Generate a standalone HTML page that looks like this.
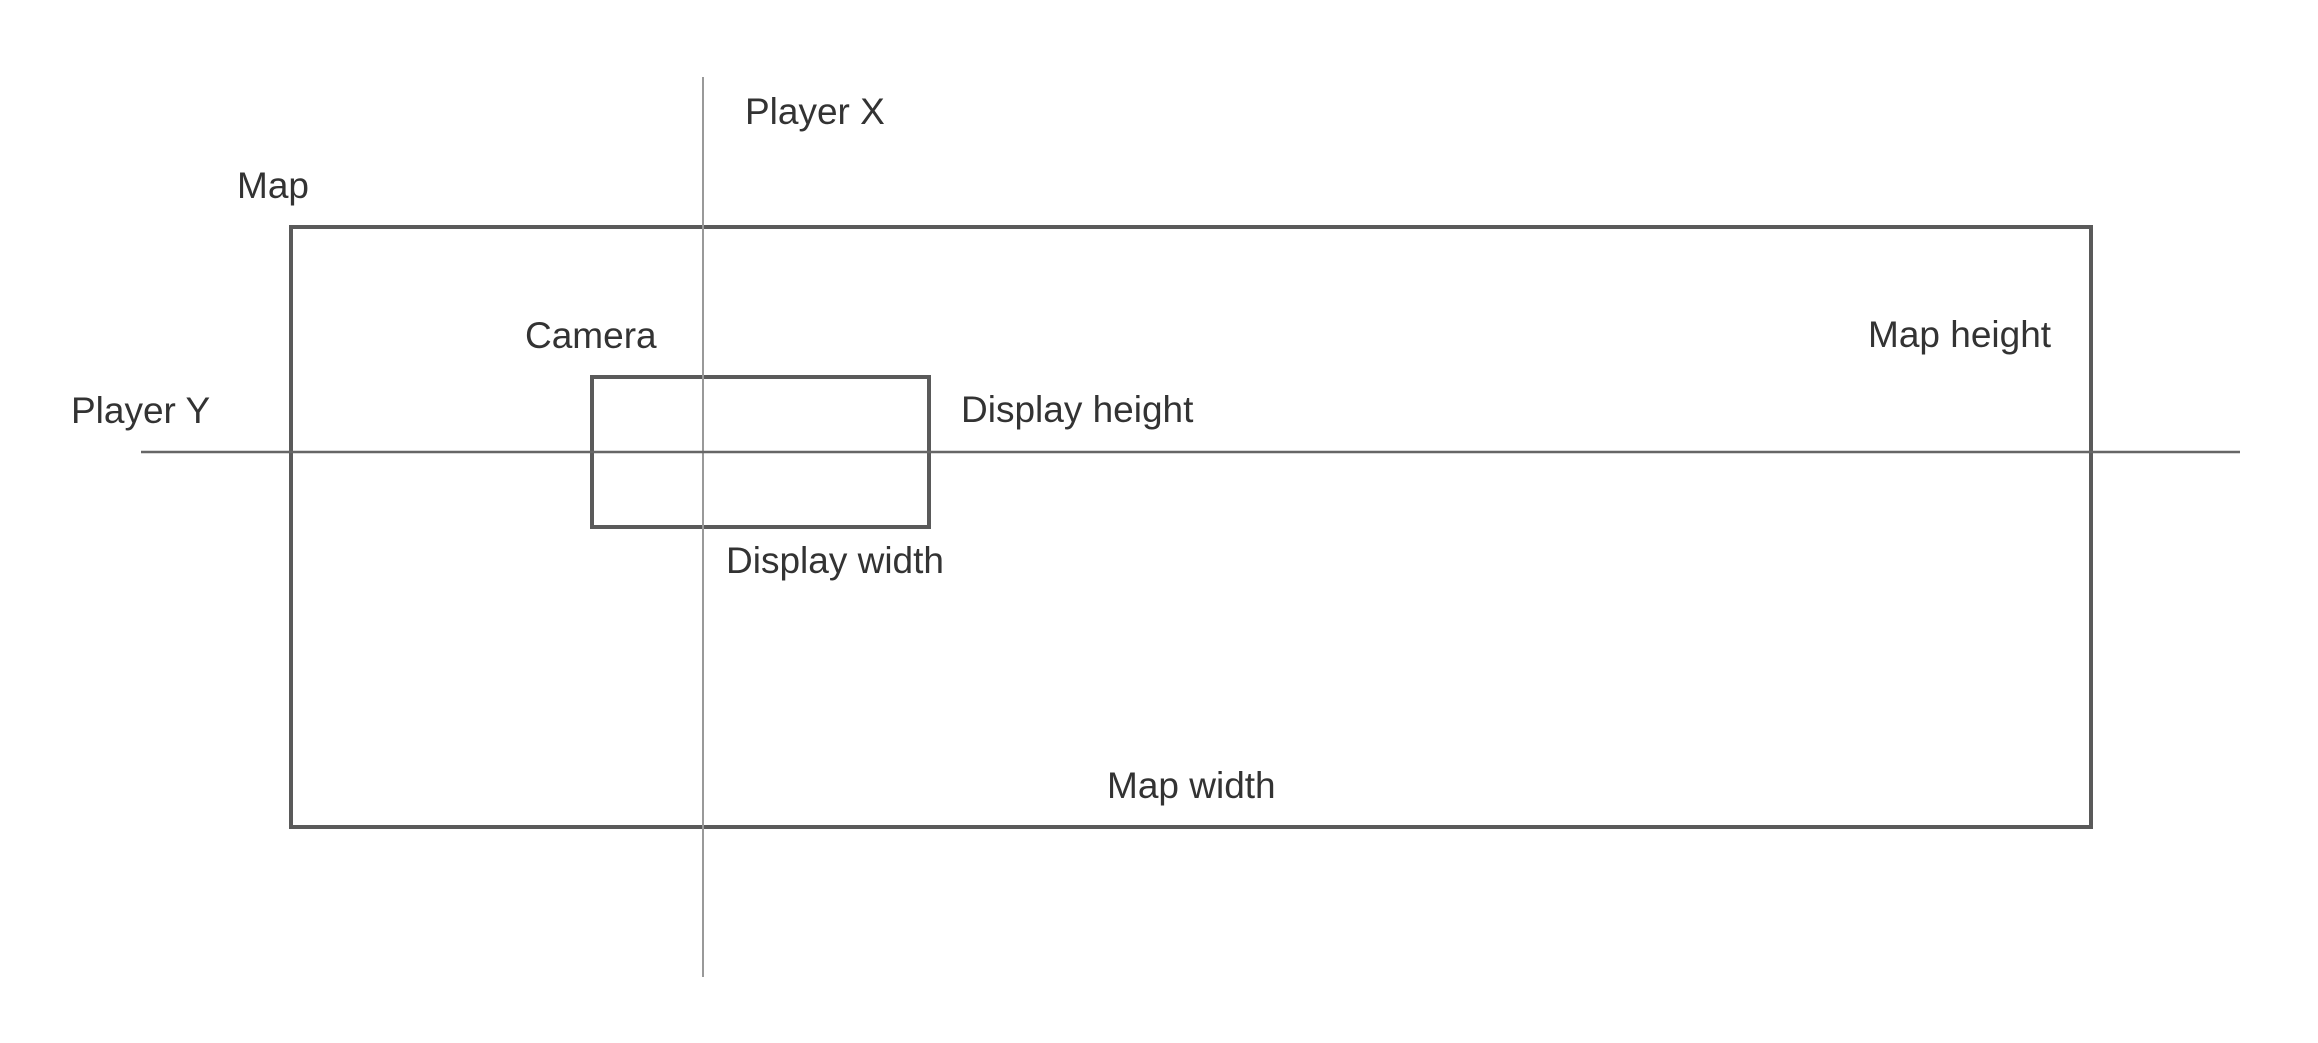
<!DOCTYPE html>
<html><head><meta charset="utf-8"><style>
html,body{margin:0;padding:0;background:#fff;}
svg{display:block;}
text{font-family:"Liberation Sans",Arial,sans-serif;font-size:37px;fill:#333;}
</style></head><body>
<svg width="2318" height="1043" viewBox="0 0 2318 1043" xmlns="http://www.w3.org/2000/svg">
<rect x="0" y="0" width="2318" height="1043" fill="#fff"/>
<rect x="291" y="227" width="1800" height="600" fill="none" stroke="#5a5a5a" stroke-width="4"/>
<rect x="592" y="377" width="337" height="150" fill="none" stroke="#5a5a5a" stroke-width="4"/>
<line x1="703" y1="77" x2="703" y2="977" stroke="#999" stroke-width="2"/>
<line x1="141" y1="452" x2="2240" y2="452" stroke="#666" stroke-width="2.5"/>
<text x="745" y="124">Player X</text>
<text x="237" y="198">Map</text>
<text x="525" y="348">Camera</text>
<text x="71" y="423">Player Y</text>
<text x="961" y="422">Display height</text>
<text x="726" y="573">Display width</text>
<text x="1868" y="347">Map height</text>
<text x="1107" y="798">Map width</text>
</svg>
</body></html>
